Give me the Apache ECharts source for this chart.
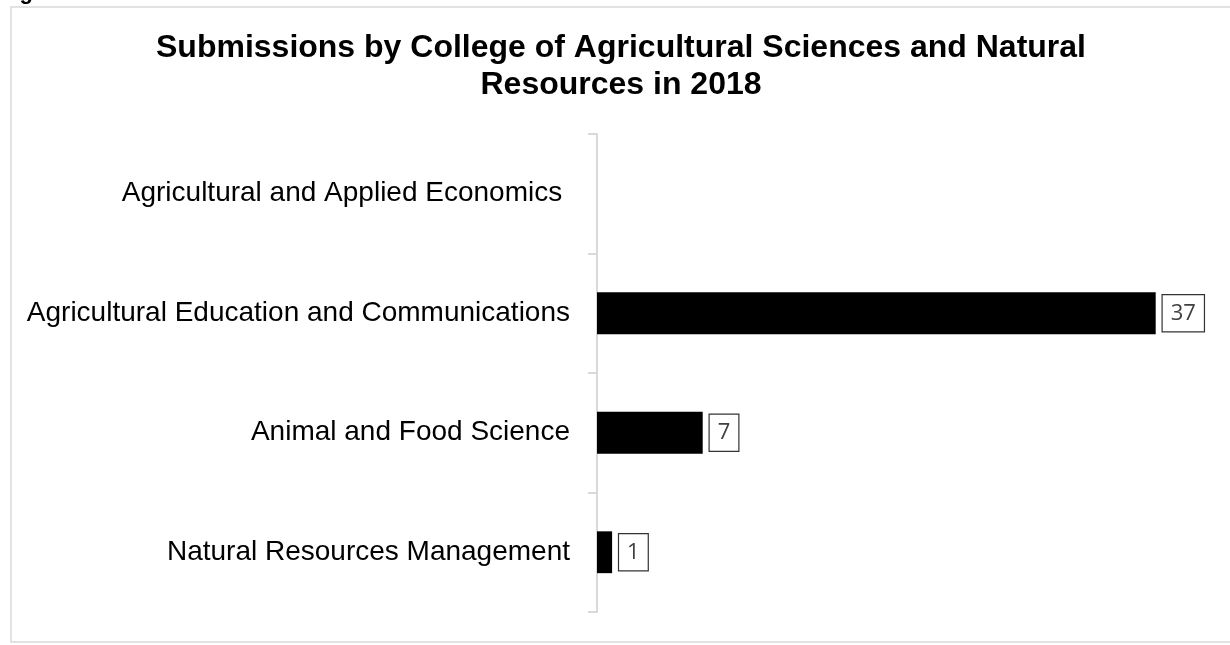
<!DOCTYPE html>
<html><head><meta charset="utf-8">
<script src="https://cdn.jsdelivr.net/npm/echarts@6/dist/echarts.min.js"></script>
<style>html,body{margin:0;padding:0;background:#fff}#c{width:1230px;height:645px}</style>
</head><body><div id="c"></div>
<script>
const categories = ["Agricultural and Applied Economics ","Agricultural Education and Communications","Animal and Food Science","Natural Resources Management"];
const values = [null, 37, 7, 1];
const titleText = "Submissions by College of Agricultural Sciences and Natural\nResources in 2018";

const chart = echarts.init(document.getElementById('c'));
chart.setOption({
  animation: false,
  backgroundColor: '#fff',
  title: {
    text: titleText, left: 616, top: 25, textAlign: 'center',
    textStyle: {fontFamily: 'Liberation Sans, Arial', fontSize: 32, fontWeight: 'bold', color: '#000', lineHeight: 37}
  },
  graphic: [
    {type: 'rect', shape: {x: 11, y: 7, width: 1222, height: 635}, style: {fill: 'none', stroke: '#d9d9d9', lineWidth: 1.5}, silent: true},
    {type: 'text', left: 0, top: -18, style: {text: 'Figure 3', font: 'bold 22px Liberation Sans, Arial', fill: '#000'}}
  ],
  grid: {left: 597, right: 29, top: 134, bottom: 33, containLabel: false},
  xAxis: {type: 'value', min: 0, max: 40, show: false},
  yAxis: {
    type: 'category', data: categories, inverse: true,
    axisLine: {show: true, lineStyle: {color: '#d9d9d9', width: 2}},
    axisTick: {show: true, interval: 0, length: 9, lineStyle: {color: '#d9d9d9', width: 2}},
    axisLabel: {margin: 27, color: '#000', fontSize: 28, fontFamily: 'Liberation Sans, Arial'}
  },
  series: [{
    type: 'bar', data: values, barWidth: '35%',
    itemStyle: {color: '#000'},
    label: {
      show: true, position: 'right', distance: 7,
      color: '#404040', fontSize: 22, lineHeight: 22, fontFamily: 'Open Sans, Liberation Sans',
      borderColor: '#333', borderWidth: 1.2, padding: [7, 8, 7, 8], backgroundColor: '#fff'
    }
  }]
});
</script></body></html>
